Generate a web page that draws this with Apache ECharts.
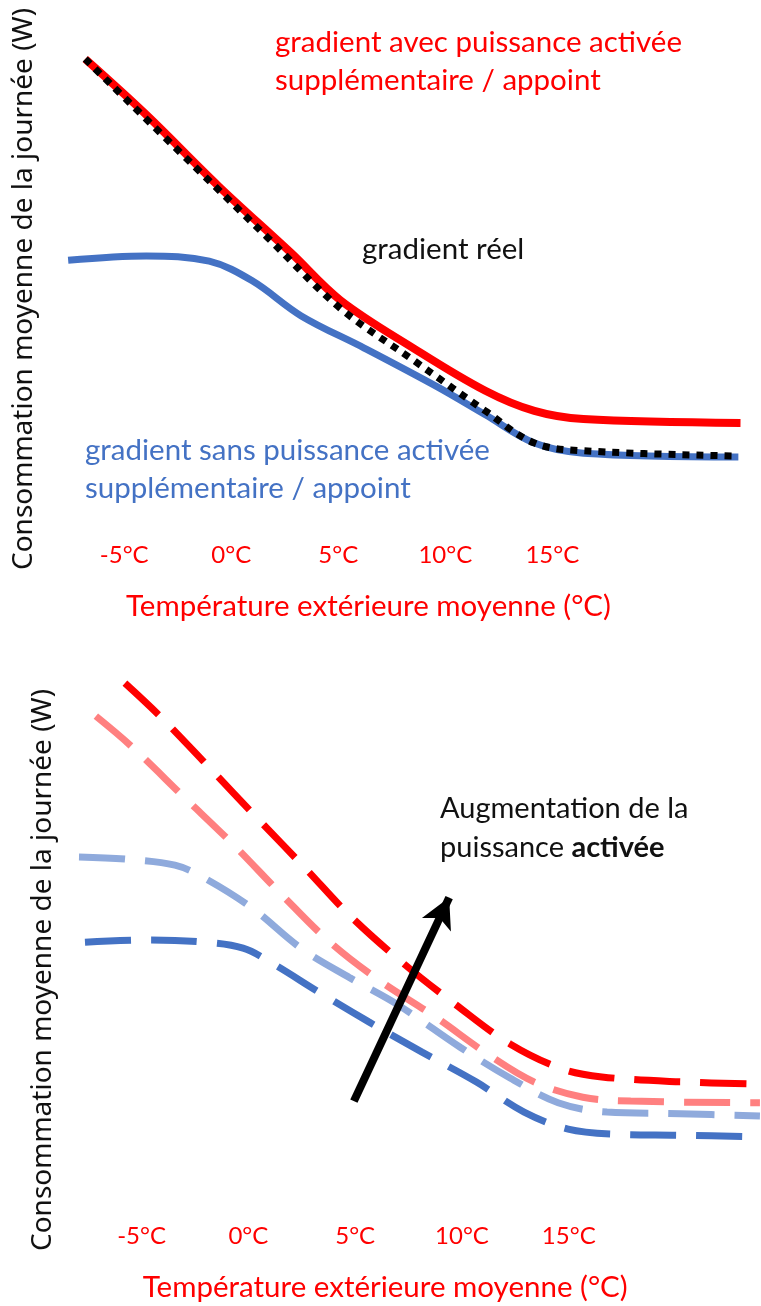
<!DOCTYPE html>
<html>
<head>
<meta charset="utf-8">
<script src="https://cdn.jsdelivr.net/npm/echarts@6/dist/echarts.min.js"></script>
<style>
  html, body { margin: 0; padding: 0; background: #fff; }
  #main { width: 761px; height: 1306px; }
</style>
</head>
<body>
<div id="main"></div>
<script>
// tick labels (°C)
var tempTicks = [-5, 0, 5, 10, 15];

// haut : [température, consommation]
var redTop = [[-6.82, 97.9], [-3.97, 86.3], [-0.61, 71.5], [2.8, 57.5], [5.09, 47.7], [8.5, 37.7], [11.87, 28.8], [14.16, 24.6], [16.45, 22.9], [23.79, 22.1]];
var realTop = [[-6.82, 97.9], [-1.73, 75.6], [1.68, 60.8], [5.09, 46.0], [8.5, 35.2], [11.87, 24.6], [14.16, 17.9], [16.45, 16.3], [23.69, 15.2]];
var blueTop = [[-7.62, 56.0], [-3.97, 56.9], [-1.03, 55.8], [0.98, 51.7], [3.27, 44.4], [6.21, 37.7], [9.63, 29.6], [11.87, 23.8], [14.16, 17.9], [16.45, 15.8], [23.69, 15.0]];

// bas : courbes selon la puissance activée
var red4 = [[-5.78, 95.8], [-4.14, 89.8], [-1.84, 80.5], [0.4, 71.3], [2.7, 62.0], [4.76, 53.5], [7.24, 44.9], [9.72, 37.3], [12.25, 30.2], [14.73, 25.6], [16.55, 24.2], [20.21, 23.3], [23.95, 22.9]];
var red3 = [[-7.14, 89.8], [-5.5, 84.4], [-3.02, 75.1], [-0.72, 66.5], [1.57, 57.3], [3.82, 48.7], [6.11, 41.8], [8.83, 34.9], [11.07, 28.7], [13.37, 23.3], [15.66, 20.5], [17.9, 19.8], [23.95, 19.5]];
var blue2 = [[-7.93, 64.2], [-5.73, 63.8], [-3.44, 62.7], [-2.08, 60.4], [0.17, 54.9], [2.46, 47.6], [4.76, 42.2], [7.0, 37.3], [9.95, 29.5], [12.25, 24.0], [14.5, 19.5], [16.79, 17.8], [20.21, 17.5], [23.95, 17.1]];
var blue1 = [[-7.65, 48.7], [-4.79, 49.1], [-2.08, 48.7], [-0.25, 47.6], [1.1, 44.9], [3.35, 39.5], [5.64, 34.2], [8.13, 28.7], [10.66, 23.3], [12.91, 17.8], [14.97, 14.7], [17.03, 13.8], [20.21, 13.6], [23.95, 13.3]];
var arrowPts = [[4.94, 19.8], [9.4, 56.8]];

var FONT = 'Lato';
var xName = 'Température extérieure moyenne (°C)';
var yName = 'Consommation moyenne de la journée (W)';

function xAxisCfg(idx) {
    return {
        type: 'value', gridIndex: idx, min: -8, max: 24,
        axisLine: { show: false }, axisTick: { show: false }, splitLine: { show: false },
        axisLabel: {
            customValues: tempTicks, margin: 14,
            color: '#ff0000', fontFamily: FONT, fontSize: 24,
            formatter: function (v) { return v + '°C'; }
        },
        name: xName, nameLocation: 'middle', nameGap: 62,
        nameTextStyle: { color: '#ff0000', fontFamily: FONT, fontSize: 29.5, padding: [0, 68, 0, 0] }
    };
}
function yAxisCfg(idx, pad) {
    return {
        type: 'value', gridIndex: idx, min: 0, max: 100,
        axisLine: { show: false }, axisTick: { show: false }, splitLine: { show: false },
        axisLabel: { show: false },
        name: yName, nameLocation: 'middle', nameGap: idx ? 20 : 22,
        nameTextStyle: { color: '#111', fontFamily: 'Noto Sans', fontSize: 28, padding: pad }
    };
}
function curve(data, color, width, type, idx) {
    return {
        type: 'line', xAxisIndex: idx, yAxisIndex: idx, data: data,
        smooth: 0.35, symbol: 'none', silent: true,
        lineStyle: { color: color, width: width, type: type, cap: 'butt' }
    };
}

var chart = echarts.init(document.getElementById('main'));
chart.setOption({
    animation: false,
    backgroundColor: '#fff',
    grid: [
        { left: 60, width: 685, top: 49, height: 480 },
        { left: 77.5, width: 683.5, top: 660, height: 550 }
    ],
    xAxis: [xAxisCfg(0), xAxisCfg(1)],
    yAxis: [yAxisCfg(0, 0), yAxisCfg(1, [0, 70, 0, 0])],
    series: [
        curve(redTop, '#ff0000', 8, 'solid', 0),
        curve(blueTop, '#4472c4', 7, 'solid', 0),
        curve(realTop, '#000000', 7, [7, 7], 0),
        curve(blue1, '#4472c4', 7, [46, 20], 1),
        curve(blue2, '#8faadc', 7, [46, 20], 1),
        curve(red3, '#ff8080', 7, [46, 20], 1),
        curve(red4, '#ff0000', 7, [46, 20], 1),
        {
            type: 'line', xAxisIndex: 1, yAxisIndex: 1, data: [], silent: true,
            markLine: {
                silent: true, symbol: ['none', 'arrow'], symbolSize: [24, 30],
                label: { show: false },
                lineStyle: { color: '#000', width: 8, type: 'solid' },
                data: [[{ coord: arrowPts[0] }, { coord: arrowPts[1] }]]
            }
        }
    ],
    graphic: [
        { type: 'text', left: 275, top: 23, style: { text: 'gradient avec puissance activée\nsupplémentaire / appoint', fill: '#ff0000', font: '29.5px Lato', lineHeight: 38 } },
        { type: 'text', left: 362, top: 234, style: { text: 'gradient réel', fill: '#111', font: '29.5px Lato' } },
        { type: 'text', left: 85, top: 431, style: { text: 'gradient sans puissance activée\nsupplémentaire / appoint', fill: '#4472c4', font: '29.5px Lato', lineHeight: 38 } },
        { type: 'text', left: 440, top: 789, style: {
            text: 'Augmentation de la\n{n|puissance} {b|activée}', fill: '#111', font: '29px Lato', lineHeight: 39, align: 'center',
            rich: { n: { fontFamily: FONT, fontSize: 29 }, b: { fontFamily: FONT, fontSize: 29, fontWeight: 'bold' } }
        } }
    ]
});
</script>
</body>
</html>
